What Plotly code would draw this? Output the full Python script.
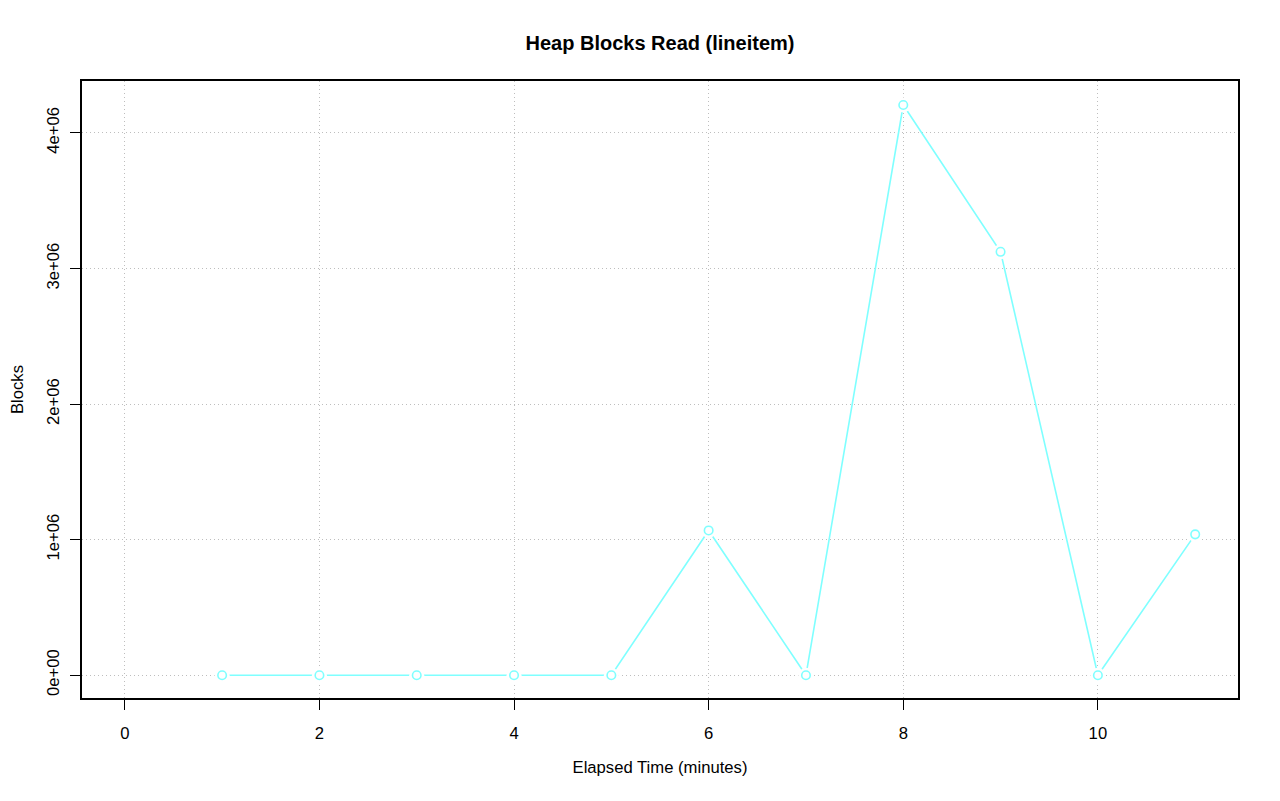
import plotly.graph_objects as go

minutes = [1, 2, 3, 4, 5, 6, 7, 8, 9, 10, 11]
blocks = [0, 0, 0, 0, 0, 1068000, 0, 4206000, 3123000, 0, 1039000]

x_ticks = [0, 2, 4, 6, 8, 10]
y_ticks = [0, 1e6, 2e6, 3e6, 4e6]
y_tick_labels = ["0e+00", "1e+06", "2e+06", "3e+06", "4e+06"]

cyan = "#7FFFFF"
font = "Liberation Sans, Arial, sans-serif"
fs = 16.67

fig = go.Figure()
fig.add_trace(go.Scatter(x=minutes, y=blocks, mode="lines",
                         line=dict(color=cyan, width=1.6), hoverinfo="skip"))
fig.add_trace(go.Scatter(x=minutes, y=blocks, mode="markers",
                         marker=dict(symbol="circle", size=15, color="white",
                                     line=dict(width=0)), hoverinfo="skip"))
fig.add_trace(go.Scatter(x=minutes, y=blocks, mode="markers",
                         marker=dict(symbol="circle-open", size=8.5, color=cyan,
                                     line=dict(width=1.6, color=cyan))))

axis_common = dict(showline=True, linecolor="black", linewidth=1.5, mirror=True,
                   ticks="outside", ticklen=10, tickwidth=1, tickcolor="black",
                   showgrid=True, gridcolor="#BEBEBE", griddash="1px,3px", gridwidth=1,
                   zeroline=False, automargin=False,
                   tickfont=dict(family=font, size=fs, color="black"),
                   title_font=dict(family=font, size=fs, color="black"))

fig.update_xaxes(range=[-0.44, 11.44], tickvals=x_ticks, ticklabelstandoff=9,
                 title_text="Elapsed Time (minutes)", title_standoff=20,
                 **axis_common)
fig.update_yaxes(range=[-168000, 4383000], tickvals=y_ticks, ticktext=y_tick_labels,
                 tickangle=-90, ticklabelstandoff=5,
                 title_text="Blocks", title_standoff=24, **axis_common)

fig.update_layout(
    width=1280, height=801,
    margin=dict(l=74, r=50, t=73, b=111, autoexpand=False),
    plot_bgcolor="white", paper_bgcolor="white",
    showlegend=False,
    title=dict(text="<b>Heap Blocks Read (lineitem)</b>", x=652 / 1280, xanchor="center",
               xref="container", y=1 - 35 / 801, yanchor="middle",
               font=dict(family=font, size=20, color="black")),
)

fig.write_html("out.html")
